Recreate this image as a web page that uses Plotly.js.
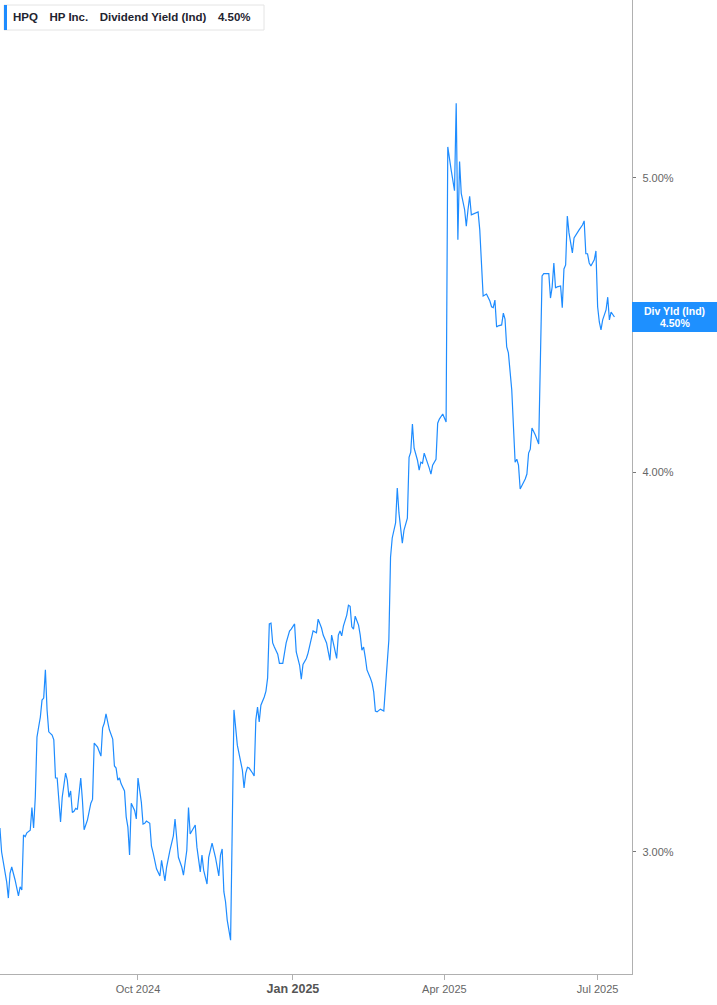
<!DOCTYPE html>
<html>
<head>
<meta charset="utf-8">
<script src="https://cdn.plot.ly/plotly-3.0.1.min.js"></script>
<style>
  html, body { margin: 0; padding: 0; background: #ffffff; }
  #chart { width: 717px; height: 1005px; }
</style>
</head>
<body>
<div id="chart"></div>
<script>
// ---- Data ----
const ticker = 'HPQ';
const companyName = 'HP Inc.';
const metricName = 'Dividend Yield (Ind)';
const metricShort = 'Div Yld (Ind)';

const dates = [
  '2024-07-11','2024-07-12','2024-07-15','2024-07-16','2024-07-17','2024-07-18','2024-07-20','2024-07-22','2024-07-23','2024-07-24',
  '2024-07-25','2024-07-26','2024-07-27','2024-07-29','2024-07-30','2024-07-31','2024-08-01','2024-08-02','2024-08-03','2024-08-04',
  '2024-08-05','2024-08-06','2024-08-07','2024-08-08','2024-08-09','2024-08-11','2024-08-12','2024-08-13','2024-08-14','2024-08-15',
  '2024-08-16','2024-08-17','2024-08-19','2024-08-20','2024-08-21','2024-08-22','2024-08-23','2024-08-24','2024-08-25','2024-08-26',
  '2024-08-28','2024-08-29','2024-08-30','2024-09-01','2024-09-03','2024-09-04','2024-09-05','2024-09-07','2024-09-09','2024-09-10',
  '2024-09-11','2024-09-12','2024-09-13','2024-09-14','2024-09-16','2024-09-17','2024-09-18','2024-09-19','2024-09-20','2024-09-21',
  '2024-09-23','2024-09-24','2024-09-25','2024-09-26','2024-09-27','2024-09-29','2024-09-30','2024-10-01','2024-10-03','2024-10-04',
  '2024-10-05','2024-10-06','2024-10-08','2024-10-09','2024-10-10','2024-10-11','2024-10-12','2024-10-14','2024-10-15','2024-10-17',
  '2024-10-18','2024-10-20','2024-10-22','2024-10-23','2024-10-24','2024-10-25','2024-10-27','2024-10-28','2024-10-30','2024-10-31',
  '2024-11-01','2024-11-03','2024-11-04','2024-11-05','2024-11-07','2024-11-08','2024-11-09','2024-11-11','2024-11-12','2024-11-14',
  '2024-11-16','2024-11-18','2024-11-19','2024-11-20','2024-11-21','2024-11-22','2024-11-23','2024-11-25','2024-11-27','2024-11-29',
  '2024-12-02','2024-12-03','2024-12-04','2024-12-05','2024-12-06','2024-12-08','2024-12-09','2024-12-10','2024-12-11','2024-12-12',
  '2024-12-13','2024-12-15','2024-12-16','2024-12-17','2024-12-18','2024-12-19','2024-12-20','2024-12-21','2024-12-23','2024-12-24',
  '2024-12-26','2024-12-27','2024-12-28','2024-12-30','2024-12-31','2025-01-02','2025-01-03','2025-01-05','2025-01-06','2025-01-07',
  '2025-01-09','2025-01-10','2025-01-12','2025-01-13','2025-01-15','2025-01-16','2025-01-18','2025-01-19','2025-01-21','2025-01-22',
  '2025-01-23','2025-01-24','2025-01-25','2025-01-27','2025-01-28','2025-01-29','2025-01-30','2025-01-31','2025-02-02','2025-02-03',
  '2025-02-04','2025-02-05','2025-02-06','2025-02-07','2025-02-09','2025-02-10','2025-02-11','2025-02-12','2025-02-13','2025-02-14',
  '2025-02-16','2025-02-17','2025-02-18','2025-02-19','2025-02-20','2025-02-22','2025-02-24','2025-02-25','2025-02-26','2025-02-27',
  '2025-02-28','2025-03-01','2025-03-03','2025-03-04','2025-03-05','2025-03-07','2025-03-08','2025-03-10','2025-03-11','2025-03-12',
  '2025-03-13','2025-03-14','2025-03-16','2025-03-17','2025-03-18','2025-03-19','2025-03-20','2025-03-22','2025-03-23','2025-03-24',
  '2025-03-25','2025-03-27','2025-03-28','2025-03-29','2025-03-31','2025-04-02','2025-04-03','2025-04-05','2025-04-07','2025-04-08',
  '2025-04-09','2025-04-10','2025-04-11','2025-04-13','2025-04-14','2025-04-15','2025-04-16','2025-04-17','2025-04-19','2025-04-21',
  '2025-04-22','2025-04-23','2025-04-24','2025-04-26','2025-04-27','2025-04-28','2025-04-29','2025-04-30','2025-05-01','2025-05-02',
  '2025-05-03','2025-05-05','2025-05-06','2025-05-07','2025-05-08','2025-05-09','2025-05-11','2025-05-12','2025-05-13','2025-05-14',
  '2025-05-15','2025-05-16','2025-05-18','2025-05-19','2025-05-20','2025-05-21','2025-05-22','2025-05-23','2025-05-25','2025-05-26',
  '2025-05-27','2025-05-29','2025-05-30','2025-06-01','2025-06-02','2025-06-03','2025-06-04','2025-06-05','2025-06-06','2025-06-07',
  '2025-06-09','2025-06-10','2025-06-11','2025-06-12','2025-06-13','2025-06-14','2025-06-16','2025-06-17','2025-06-18','2025-06-19',
  '2025-06-20','2025-06-22','2025-06-23','2025-06-24','2025-06-25','2025-06-26','2025-06-27','2025-06-29','2025-06-30','2025-07-01',
  '2025-07-02','2025-07-03','2025-07-04','2025-07-06','2025-07-07','2025-07-08','2025-07-09','2025-07-11'
];

const yields = [
  3.055,3.000,2.933,2.897,2.952,2.966,2.937,2.902,2.922,2.915,
  3.039,3.035,3.044,3.050,3.103,3.055,3.127,3.273,3.298,3.323,
  3.366,3.371,3.444,3.341,3.286,3.278,3.266,3.173,3.173,3.120,
  3.069,3.127,3.185,3.168,3.127,3.142,3.091,3.094,3.101,3.098,
  3.173,3.120,3.051,3.074,3.113,3.122,3.258,3.248,3.226,3.296,
  3.308,3.331,3.311,3.291,3.268,3.202,3.197,3.168,3.173,3.159,
  3.142,3.081,3.057,2.993,3.113,3.096,3.076,3.173,3.115,3.064,
  3.066,3.071,3.066,3.013,2.998,2.977,2.962,2.946,2.981,2.935,
  2.966,3.004,3.037,3.076,3.035,2.988,2.966,2.948,3.004,3.103,
  3.041,3.053,3.062,3.011,2.955,2.993,2.959,2.928,2.988,3.020,
  2.988,2.946,2.993,3.007,2.911,2.889,2.849,2.806,3.341,3.253,
  3.192,3.149,3.185,3.199,3.197,3.185,3.178,3.316,3.348,3.311,
  3.353,3.374,3.389,3.423,3.566,3.568,3.515,3.504,3.485,3.461,
  3.461,3.488,3.515,3.547,3.552,3.566,3.491,3.456,3.420,3.458,
  3.474,3.488,3.523,3.547,3.542,3.579,3.555,3.536,3.515,3.496,
  3.469,3.536,3.515,3.474,3.536,3.547,3.534,3.560,3.590,3.617,
  3.614,3.558,3.552,3.587,3.563,3.536,3.496,3.504,3.477,3.444,
  3.423,3.410,3.387,3.338,3.336,3.343,3.338,3.397,3.436,3.523,
  3.751,3.806,3.850,3.953,3.879,3.791,3.829,3.864,4.046,4.062,
  4.149,4.074,4.037,4.007,4.031,4.028,4.059,4.031,4.013,3.995,
  4.022,4.040,4.152,4.165,4.181,4.156,5.119,5.031,4.952,5.291,
  4.771,5.063,4.942,4.881,4.821,4.881,4.931,4.862,4.869,4.873,
  4.807,4.688,4.572,4.579,4.568,4.555,4.535,4.532,4.558,4.466,
  4.470,4.473,4.513,4.493,4.399,4.379,4.258,4.121,4.031,4.040,
  4.022,3.950,3.968,3.980,3.995,4.059,4.071,4.137,4.115,4.099,
  4.087,4.642,4.650,4.650,4.650,4.565,4.604,4.688,4.600,4.604,
  4.607,4.532,4.667,4.681,4.858,4.796,4.724,4.778,4.789,4.796,
  4.807,4.825,4.840,4.721,4.721,4.688,4.677,4.699,4.731,4.535,
  4.483,4.456,4.490,4.524,4.568,4.490,4.517,4.500
];

const xTickVals = ['2024-10-01', '2025-01-01', '2025-04-01', '2025-07-01'];
const xTickLabels = ['Oct 2024', 'Jan 2025', 'Apr 2025', 'Jul 2025'];
const yTickVals = [3, 4, 5];
const yTickLabels = ['3.00%', '4.00%', '5.00%'];

// ---- Styling / layout ----
const lineColor = '#1e8cff';
const PW = 632, PH = 974; // plot area in pixels
const px = v => v / PW;
const py = v => 1 - v / PH;

const lastVal = yields[yields.length - 1];
const lastTxt = lastVal.toFixed(2) + '%';

const xTickText = xTickLabels.map(t => t.startsWith('Jan')
  ? '<span style="font-size:12.5px;font-weight:bold;fill:#555">' + t + '</span>' : t);

const sp = '\u2002\u2002';
const header = '<b>' + ticker + sp + companyName + sp + metricName + sp + lastTxt + '</b>';

const trace = {
  type: 'scatter', mode: 'lines',
  x: dates, y: yields,
  line: { color: lineColor, width: 1.2 },
  hoverinfo: 'skip'
};

const layout = {
  width: 717, height: 1005,
  margin: { l: 0, r: 85, t: 0, b: 31, pad: 0 },
  paper_bgcolor: '#ffffff', plot_bgcolor: '#ffffff',
  showlegend: false,
  font: { family: 'Liberation Sans, Arial, sans-serif', size: 11, color: '#666' },
  xaxis: {
    type: 'date',
    range: ['2024-07-11 01:00', '2025-07-21 10:00'],
    showgrid: false, zeroline: false,
    showline: true, linecolor: '#b0b0b0', linewidth: 1.2,
    ticks: 'outside', ticklen: 5, tickcolor: '#b0b0b0', tickwidth: 1,
    tickmode: 'array', tickvals: xTickVals, ticktext: xTickText,
    tickfont: { family: 'Liberation Sans, Arial, sans-serif', size: 11, color: '#666' },
    fixedrange: true
  },
  yaxis: {
    type: 'log', side: 'right',
    range: [Math.log10(2.735), Math.log10(5.722)],
    showgrid: false, zeroline: false,
    showline: true, linecolor: '#b0b0b0', linewidth: 1.2,
    ticks: 'outside', ticklen: 3, tickcolor: '#777', tickwidth: 1,
    tickmode: 'array', tickvals: yTickVals, ticktext: yTickLabels,
    tickfont: { family: 'Liberation Sans, Arial, sans-serif', size: 11, color: '#666' },
    ticklabelstandoff: 4,
    fixedrange: true
  },
  shapes: [
    { type: 'rect', xref: 'paper', yref: 'paper', layer: 'above',
      x0: px(4), x1: px(264), y0: py(30), y1: py(5),
      fillcolor: '#ffffff', line: { color: '#e4e4e4', width: 1 } },
    { type: 'rect', xref: 'paper', yref: 'paper', layer: 'above',
      x0: px(4), x1: px(7), y0: py(30), y1: py(5),
      fillcolor: lineColor, line: { width: 0 } }
  ],
  annotations: [
    { xref: 'paper', yref: 'paper', x: px(11), y: py(17.5),
      xanchor: 'left', yanchor: 'middle', showarrow: false,
      text: header,
      font: { family: 'Liberation Sans, Arial, sans-serif', size: 11.5, color: '#1f2430' } },
    { xref: 'paper', yref: 'y', x: 1, y: Math.log10(lastVal),
      xanchor: 'left', yanchor: 'middle', showarrow: false,
      text: ' ', width: 85, height: 30, bgcolor: '#1e90ff',
      borderwidth: 0, borderpad: 0 },
    { xref: 'paper', yref: 'y', x: px(674.5), y: Math.log10(lastVal), yshift: 5.5,
      xanchor: 'center', yanchor: 'middle', showarrow: false,
      text: '<b>' + metricShort + '</b>',
      font: { family: 'Liberation Sans, Arial, sans-serif', size: 10.5, color: '#ffffff' } },
    { xref: 'paper', yref: 'y', x: px(674.5), y: Math.log10(lastVal), yshift: -5.7,
      xanchor: 'center', yanchor: 'middle', showarrow: false,
      text: '<b>' + lastTxt + '</b>',
      font: { family: 'Liberation Sans, Arial, sans-serif', size: 10.5, color: '#ffffff' } }
  ]
};

Plotly.newPlot('chart', [trace], layout, { displayModeBar: false, staticPlot: true });
</script>
</body>
</html>
